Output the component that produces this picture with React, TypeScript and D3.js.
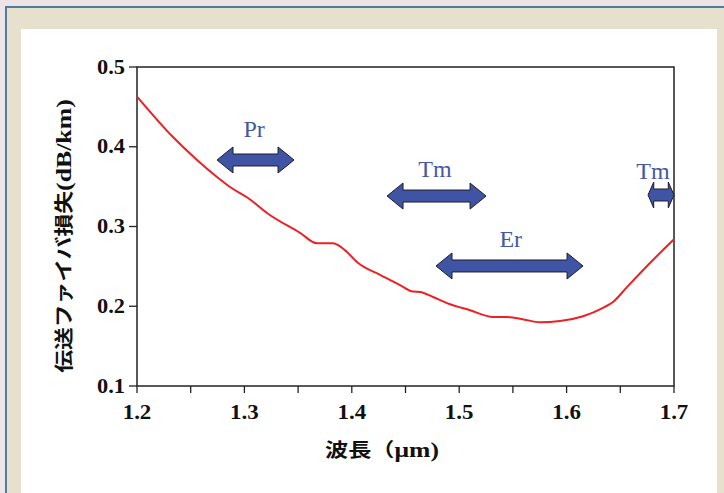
import React from 'react';
import * as d3 from 'd3';

// wavelength (µm) vs loss (dB/km)
const wavelength = [1.2, 1.2335, 1.2559, 1.2745, 1.2866, 1.3034, 1.321, 1.3518, 1.3676, 1.3825, 1.3955, 1.4048, 1.4263, 1.4449, 1.457, 1.4635, 1.4756, 1.4886, 1.51, 1.5315, 1.5445, 1.56, 1.5752, 1.5939, 1.6153, 1.6339, 1.6432, 1.6562, 1.6804, 1.7];
const loss = [0.463, 0.4122, 0.3834, 0.362, 0.3495, 0.3357, 0.317, 0.292, 0.279, 0.279, 0.268, 0.2555, 0.2392, 0.2266, 0.2185, 0.218, 0.2116, 0.204, 0.195, 0.1865, 0.1865, 0.1835, 0.18, 0.1815, 0.1875, 0.198, 0.2053, 0.224, 0.258, 0.284];

// amplifier bands
const bandNames = ['Pr', 'Tm', 'Er', 'Tm'];
const bandStart = [1.2745, 1.4328, 1.4784, 1.6758];
const bandEnd = [1.3462, 1.525, 1.6153, 1.7];
const bandLevel = [0.3834, 0.3382, 0.2505, 0.3395];
const labelX = [1.309, 1.4775, 1.548, 1.6804];
const labelY = [0.421, 0.371, 0.283, 0.368];

const xTicks = [1.2, 1.3, 1.4, 1.5, 1.6, 1.7];
const xMinorTicks = [1.2, 1.25, 1.3, 1.35, 1.4, 1.45, 1.5, 1.55, 1.6, 1.65, 1.7];
const yTicks = [0.1, 0.2, 0.3, 0.4, 0.5];

const W = 724, H = 493;
const plot = { left: 137, right: 674, top: 67, bottom: 386 };
const serif = '"Liberation Serif", "Times New Roman", serif';
const gothic = '"Noto Sans CJK JP", "Noto Sans", sans-serif';
const blue = '#3f54a4';

const x = d3.scaleLinear().domain([1.2, 1.7]).range([plot.left, plot.right]);
const y = d3.scaleLinear().domain([0.1, 0.5]).range([plot.bottom, plot.top]);

const arrowPath = (x0: number, x1: number, cy: number) => {
  const len = x1 - x0;
  const head = Math.min(16, len * 0.22);
  const hh = 13, sh = 6;
  return `M${x0},${cy} L${x0 + head},${cy - hh} L${x0 + head},${cy - sh} L${x1 - head},${cy - sh} L${x1 - head},${cy - hh} L${x1},${cy} L${x1 - head},${cy + hh} L${x1 - head},${cy + sh} L${x0 + head},${cy + sh} L${x0 + head},${cy + hh} Z`;
};

const App = () => {
  const data = wavelength.map((w, i) => [w, loss[i]] as [number, number]);
  const line = d3.line<[number, number]>()
    .x(d => x(d[0]))
    .y(d => y(d[1]))
    .curve(d3.curveMonotoneX);

  return (
    <div style={{ position: 'absolute', left: 0, top: 0 }}>
      <svg width={W} height={H} style={{ display: 'block' }}>
        <rect x={0} y={0} width={W} height={H} fill="#ece4e6" />
        <rect x={6} y={7} width={W} height={H} fill="#e7e0cc" stroke="#4d7c9c" strokeWidth={2} />
        <rect x={21} y={29} width={696} height={H} fill="#ffffff" />

        {/* frame */}
        <rect x={plot.left} y={plot.top} width={plot.right - plot.left} height={plot.bottom - plot.top}
          fill="none" stroke="#222" strokeWidth={1.5} />

        {/* y ticks */}
        {yTicks.map(t => (
          <g key={'y' + t}>
            <line x1={plot.left - 8} x2={plot.left} y1={y(t)} y2={y(t)} stroke="#222" strokeWidth={1.3} />
            <text transform={`translate(${plot.left - 12},${y(t) + 6.5}) scale(1.12,1)`} textAnchor="end"
              fontFamily={serif} fontWeight="bold" fontSize={20} fill="#111">{t.toFixed(1)}</text>
          </g>
        ))}

        {/* x ticks */}
        {xMinorTicks.map(t => (
          <line key={'xm' + t} x1={x(t)} x2={x(t)} y1={plot.bottom} y2={plot.bottom + 7} stroke="#222" strokeWidth={1.3} />
        ))}
        {xTicks.map(t => (
          <text key={'x' + t} transform={`translate(${x(t)},${plot.bottom + 33}) scale(1.12,1)`} textAnchor="middle"
            fontFamily={serif} fontWeight="bold" fontSize={20.5} fill="#111">{t.toFixed(1)}</text>
        ))}

        {/* axis titles */}
        <text transform={`translate(325,457) scale(1.22,1)`} fill="#111" fontWeight="bold">
          <tspan fontFamily={gothic} fontSize={19}>波長（</tspan>
          <tspan fontFamily={serif} fontSize={21}>μm)</tspan>
        </text>
        <text transform={`translate(71,236) rotate(-90) scale(1.2,1)`} textAnchor="middle" fill="#111" fontWeight="bold">
          <tspan fontFamily={gothic} fontSize={19}>伝送ファイバ損失</tspan>
          <tspan fontFamily={serif} fontSize={21.5}>(dB/km)</tspan>
        </text>

        {/* loss curve */}
        <path d={line(data) || ''} fill="none" stroke="#ee2024" strokeWidth={2} />

        {/* bands */}
        {bandNames.map((name, i) => (
          <g key={'b' + i}>
            <path d={arrowPath(x(bandStart[i]), x(bandEnd[i]), y(bandLevel[i]))} fill={blue} stroke="#1e1e2a" strokeWidth={1} />
            <text x={x(labelX[i])} y={y(labelY[i]) + 7} textAnchor="middle"
              fontFamily={serif} fontSize={24} fill="#4458a8">{name}</text>
          </g>
        ))}
      </svg>
    </div>
  );
};

export default App;
